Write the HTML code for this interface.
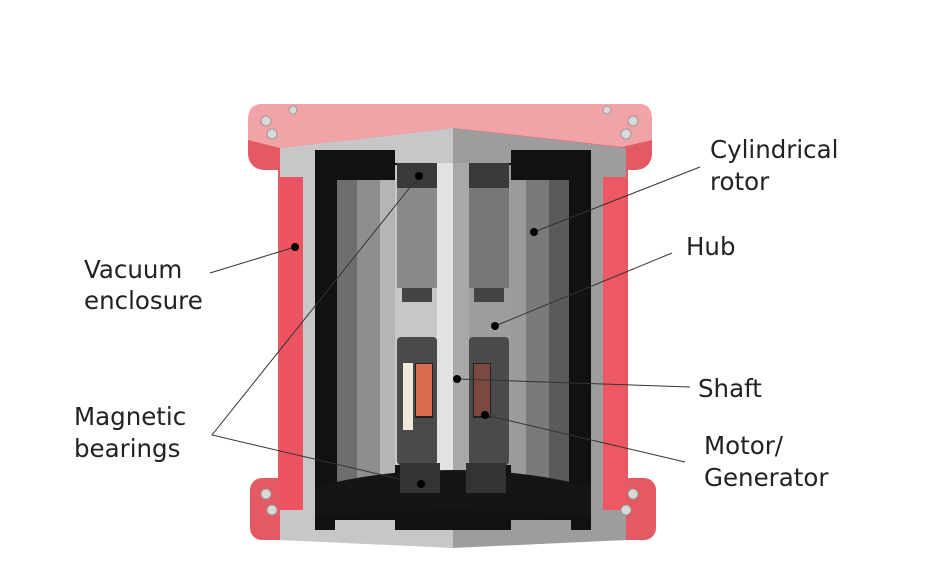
<!DOCTYPE html>
<html><head><meta charset="utf-8"><style>
html,body{margin:0;padding:0;background:#fff;}
svg{display:block}
text{font-family:"DejaVu Sans","Liberation Sans",sans-serif;font-size:24.5px;fill:#222}
</style></head><body>
<svg width="948" height="586" viewBox="0 0 948 586" xmlns="http://www.w3.org/2000/svg">
<defs>
<g id="half">
  <rect x="278" y="160" width="30" height="380" fill="var(--red)"/>
  <rect x="250" y="478" width="60" height="62" rx="12" fill="var(--red)"/>
  <polygon points="280,148 453,128 453,546 280,540" fill="var(--g1)"/>
  <rect x="280" y="177" width="23" height="333" fill="var(--red2)"/>
  <path d="M315,150 L395,150 L395,163 L453,163 L453,530 L395,530 L395,520 L335,520 L335,530 L315,530 Z" fill="#111"/>
  <rect x="337" y="180" width="20" height="307" fill="var(--r1)"/>
  <rect x="357" y="180" width="23" height="307" fill="var(--r2)"/>
  <rect x="380" y="180" width="15" height="307" fill="var(--r3)"/>
  <rect x="395" y="165" width="58" height="300" fill="var(--g1)"/>
  <rect x="397" y="163" width="40" height="25" fill="#3a3a3a"/>
  <rect x="397" y="188" width="40" height="100" fill="var(--t)"/>
  <rect x="402" y="288" width="30" height="14" fill="#444"/>
  <rect x="397" y="337" width="40" height="128" rx="4" fill="#4a4a4a"/>
  <rect x="403" y="363" width="10" height="67" fill="var(--cream)"/>
  <rect x="415" y="363" width="18" height="55" fill="#222"/>
  <rect x="416" y="364" width="16" height="52" fill="var(--cu)"/>
  <rect x="437" y="163" width="16" height="310" fill="var(--sh)"/>
  <path d="M315,487 Q380,470 453,470 L453,510 L315,515 Z" fill="#151515"/>
  <rect x="400" y="463" width="40" height="30" fill="#333"/>
  <polygon points="280,530 453,540 453,548 280,540" fill="var(--g1)"/>
</g>
</defs>
<rect x="248" y="104" width="404" height="66" rx="16" fill="#e45a64"/>
<path d="M262,104 L640,104 Q652,104 652,120 L652,140 L622,147 L453,128 L280,148 L248,140 L248,120 Q248,104 262,104 Z" fill="#f1a3a8"/>
<use href="#half" style="--red:#e45a64;--red2:#ec5560;--g1:#c7c7c7;--r1:#6e6e6e;--r2:#8e8e8e;--r3:#b5b5b5;--t:#8a8a8a;--cream:#efeadb;--cu:#d96a4e;--sh:#e2e2e2"/>
<use href="#half" transform="translate(906,0) scale(-1,1)" style="--red:#e45a64;--red2:#ee5862;--g1:#9d9d9d;--r1:#5a5a5a;--r2:#7a7a7a;--r3:#9a9a9a;--t:#777;--cream:#4a4a4a;--cu:#7a4a40;--sh:#a8a8a8"/>
<g fill="#d9d9d9" stroke="#999" stroke-width="1">
<circle cx="266" cy="121" r="5"/><circle cx="293" cy="110" r="4"/><circle cx="272" cy="134" r="5"/>
<circle cx="633" cy="121" r="5"/><circle cx="607" cy="110" r="4"/><circle cx="626" cy="134" r="5"/>
<circle cx="266" cy="494" r="5"/><circle cx="272" cy="510" r="5"/>
<circle cx="633" cy="494" r="5"/><circle cx="626" cy="510" r="5"/>
</g>
<g stroke="#333" stroke-width="1" fill="none">
<line x1="210" y1="273" x2="295" y2="247"/>
<polyline points="419,176 212,435 421,484"/>
<line x1="700" y1="167" x2="534" y2="232"/>
<line x1="672" y1="253" x2="495" y2="326"/>
<line x1="690" y1="387" x2="457" y2="379"/>
<line x1="685" y1="462" x2="485" y2="415"/>
</g>
<g fill="#000">
<circle cx="295" cy="247" r="4"/><circle cx="419" cy="176" r="4"/><circle cx="534" cy="232" r="4"/>
<circle cx="495" cy="326" r="4"/><circle cx="457" cy="379" r="4"/><circle cx="485" cy="415" r="4"/>
<circle cx="421" cy="484" r="4"/>
</g>
<text x="710" y="158">Cylindrical</text>
<text x="710" y="190">rotor</text>
<text x="686" y="255">Hub</text>
<text x="84" y="278">Vacuum</text>
<text x="84" y="309">enclosure</text>
<text x="698" y="397">Shaft</text>
<text x="74" y="425">Magnetic</text>
<text x="74" y="457">bearings</text>
<text x="704" y="454">Motor/</text>
<text x="704" y="486">Generator</text>
</svg>
</body></html>
